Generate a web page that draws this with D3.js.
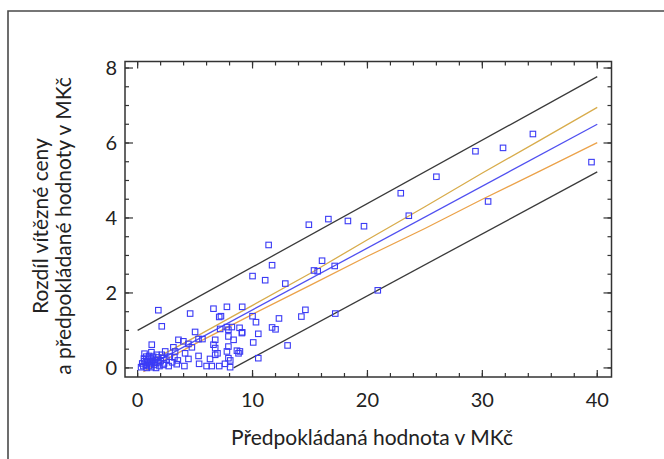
<!DOCTYPE html>
<html>
<head>
<meta charset="utf-8">
<script src="https://cdn.jsdelivr.net/npm/d3@7"></script>
<style>
  body { margin: 0; background: #fff; }
  text { font-family: Lato, "Open Sans", sans-serif; fill: #222; }
</style>
</head>
<body>
<svg id="chart" width="664" height="459"></svg>
<script>
// scatter: [predicted value, difference]
const points = [
  [11.4, 3.28], [14.9, 3.82], [16.6, 3.97], [18.3, 3.92], [19.7, 3.78],
  [22.9, 4.66], [26.0, 5.10], [29.4, 5.78], [31.8, 5.87], [34.4, 6.24],
  [39.5, 5.49], [30.5, 4.44], [23.6, 4.06], [20.9, 2.07],
  [11.7, 2.74], [10.0, 2.45], [11.1, 2.34], [12.85, 2.25], [16.05, 2.86],
  [15.35, 2.60], [15.67, 2.58], [17.15, 2.72], [9.1, 1.63], [10.0, 1.38],
  [10.3, 1.22], [12.3, 1.32], [14.6, 1.55], [14.25, 1.37], [11.7, 1.08],
  [12.0, 1.03], [17.2, 1.45], [9.1, 0.95], [10.5, 0.91], [10.06, 0.68],
  [13.05, 0.60], [10.5, 0.26], [8.9, 0.44],
  [1.8, 1.54], [2.1, 1.11], [4.57, 1.45], [6.6, 1.58], [7.77, 1.63],
  [7.1, 1.36], [7.25, 1.38], [1.23, 0.62], [3.26, 0.44], [3.55, 0.75],
  [3.98, 0.71], [4.42, 0.64], [3.11, 0.55], [5.0, 0.96], [4.72, 0.55],
  [5.3, 0.77], [5.64, 0.77], [6.75, 0.75], [6.6, 0.62], [6.75, 0.53],
  [6.75, 0.35], [6.95, 0.39], [7.77, 1.09], [7.9, 1.02], [7.18, 1.04],
  [8.2, 1.09], [7.9, 0.84], [8.35, 0.75], [7.9, 0.57], [8.64, 0.46],
  [8.78, 0.39], [8.87, 1.07], [9.07, 0.93], [7.77, 0.44], [7.9, 0.26],
  [8.06, 0.20], [6.3, 0.24], [6.0, 0.05], [6.45, 0.05], [7.1, 0.05],
  [7.6, 0.11], [8.05, 0.02], [5.3, 0.32], [5.35, 0.11], [4.07, 0.05],
  [4.42, 0.24], [4.13, 0.39], [2.4, 0.44], [2.24, 0.26], [2.24, 0.08],
  [1.66, 0.35], [1.52, 0.13],
  [0.3, 0.02], [0.4, 0.12], [0.5, 0.05], [0.55, 0.25], [0.6, 0.18],
  [0.7, 0.08], [0.75, 0.30], [0.8, 0.0], [0.85, 0.15], [0.9, 0.22],
  [1.0, 0.05], [1.0, 0.32], [1.1, 0.12], [1.15, 0.25], [1.2, 0.02],
  [1.3, 0.18], [1.35, 0.30], [1.45, 0.08], [1.5, 0.22], [1.6, 0.0],
  [1.7, 0.15], [1.8, 0.28], [1.9, 0.05], [2.0, 0.18], [2.1, 0.35],
  [2.3, 0.12], [2.5, 0.22], [2.7, 0.05], [2.8, 0.30], [3.0, 0.15],
  [3.2, 0.28], [3.4, 0.10], [3.5, 0.20], [0.6, 0.38], [1.2, 0.42]
];

const fitLine = [[0.5, -0.02], [40, 6.5]];
const upperConf = [[0.5, 0.08], [5, 0.82], [10, 1.67], [15, 2.52], [20, 3.42], [25, 4.3], [30, 5.2], [35, 6.07], [40, 6.95]];
const lowerConf = [[0.5, -0.1], [5, 0.64], [10, 1.43], [15, 2.2], [20, 2.98], [25, 3.72], [30, 4.5], [35, 5.25], [40, 6.01]];
const upperPred = [[0, 1.0], [40, 7.77]];
const lowerPred = [[8.35, 0], [40, 5.23]];

const xTicks = [0, 10, 20, 30, 40];
const yTicks = [0, 2, 4, 6, 8];
const xMinor = d3.range(0, 42, 2);
const yMinor = d3.range(0, 8.5, 0.5);

const margin = {top: 61.5, right: 52.5, bottom: 82, left: 125};
const width = 664 - margin.left - margin.right;
const height = 459 - margin.top - margin.bottom;

const svg = d3.select("#chart");

// outer frame (only top and left visible)
svg.append("path")
  .attr("d", "M8,459V11H664")
  .attr("fill", "none")
  .attr("stroke", "#4a4a4a")
  .attr("stroke-width", 1.6);

const g = svg.append("g")
  .attr("transform", `translate(${margin.left},${margin.top})`);

const x = d3.scaleLinear().domain([-1.1, 41.24]).range([0, width]);
const y = d3.scaleLinear().domain([-0.242, 8.174]).range([height, 0]);

g.append("defs").append("clipPath").attr("id", "clip")
  .append("rect").attr("width", width).attr("height", height);

// ticks pointing inward on all four sides
const tickColor = "#333";
function drawTicks(vals, len, side) {
  vals.forEach(v => {
    let x1, y1, x2, y2;
    if (side === "bottom") { x1 = x2 = x(v); y1 = height; y2 = height - len; }
    if (side === "top")    { x1 = x2 = x(v); y1 = 0; y2 = len; }
    if (side === "left")   { y1 = y2 = y(v); x1 = 0; x2 = len; }
    if (side === "right")  { y1 = y2 = y(v); x1 = width; x2 = width - len; }
    g.append("line")
      .attr("x1", x1).attr("y1", y1).attr("x2", x2).attr("y2", y2)
      .attr("stroke", tickColor).attr("stroke-width", 1.2);
  });
}
["bottom", "top"].forEach(s => { drawTicks(xMinor, 4, s); drawTicks(xTicks, 7, s); });
["left", "right"].forEach(s => { drawTicks(yMinor, 4, s); drawTicks(yTicks, 8, s); });

g.append("rect")
  .attr("width", width).attr("height", height)
  .attr("fill", "none").attr("stroke", "#333").attr("stroke-width", 1.5);

// tick labels
g.selectAll(".xl").data(xTicks).enter().append("text")
  .attr("x", d => x(d)).attr("y", height + 30)
  .attr("text-anchor", "middle").attr("font-size", 20)
  .text(d => d);
g.selectAll(".yl").data(yTicks).enter().append("text")
  .attr("x", -8).attr("y", d => y(d)).attr("dy", "0.35em")
  .attr("text-anchor", "end").attr("font-size", 20)
  .text(d => d);

// axis titles
svg.append("text")
  .attr("x", 372).attr("y", 445)
  .attr("text-anchor", "middle").attr("font-size", 21)
  .text("Předpokládaná hodnota v MKč");

const yt = svg.append("text")
  .attr("transform", "translate(0,226) rotate(-90)")
  .attr("text-anchor", "middle").attr("font-size", 21);
yt.append("tspan").attr("x", 0).attr("y", 48).text("Rozdíl vítězné ceny");
yt.append("tspan").attr("x", 0).attr("y", 71).text("a předpokládané hodnoty v MKč");

const line = d3.line().x(d => x(d[0])).y(d => y(d[1]));
const plot = g.append("g").attr("clip-path", "url(#clip)");

plot.append("path").datum(upperPred).attr("d", line)
  .attr("fill", "none").attr("stroke", "#3a3a3a").attr("stroke-width", 1.3);
plot.append("path").datum(lowerPred).attr("d", line)
  .attr("fill", "none").attr("stroke", "#3a3a3a").attr("stroke-width", 1.3);
plot.append("path").datum(upperConf).attr("d", line)
  .attr("fill", "none").attr("stroke", "#d8ac4c").attr("stroke-width", 1.3);
plot.append("path").datum(lowerConf).attr("d", line)
  .attr("fill", "none").attr("stroke", "#eba24a").attr("stroke-width", 1.3);
plot.append("path").datum(fitLine).attr("d", line)
  .attr("fill", "none").attr("stroke", "#5050f0").attr("stroke-width", 1.3);

const s = 5.5;
plot.selectAll(".pt").data(points).enter().append("rect")
  .attr("x", d => x(d[0]) - s / 2)
  .attr("y", d => y(d[1]) - s / 2)
  .attr("width", s).attr("height", s)
  .attr("fill", "none")
  .attr("stroke", "#3b3bf5")
  .attr("stroke-width", 1.1);
</script>
</body>
</html>
